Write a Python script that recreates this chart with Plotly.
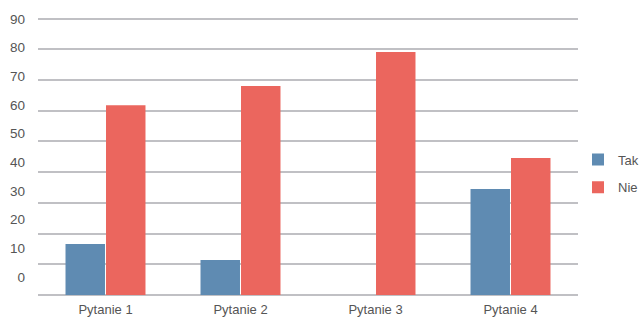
import plotly.graph_objects as go

categories = ["Pytanie 1", "Pytanie 2", "Pytanie 3", "Pytanie 4"]
tak_values = [16.6, 11.4, 0, 34.5]
nie_values = [61.8, 68.0, 79.1, 44.6]
series_names = ["Tak", "Nie"]
ytick_vals = [0, 10, 20, 30, 40, 50, 60, 70, 80, 90]
ytick_text = ["0", "10", "20", "30", "40", "50", "60", "70", "80", "90"]

W, H = 642, 320
TOP, BOTTOM = 10, 295          # plot area pixel rows
GRID_TOP = 18.5                # pixel of gridline 90
LBL0, LBL90 = 277, 19          # pixel rows of the "0" and "90" labels
FONT = "Helvetica Neue, Helvetica, Liberation Sans, Arial, sans-serif"
TXT = "#555555"

px_per_unit = (BOTTOM - GRID_TOP) / 90.0
y1_max = (BOTTOM - TOP) / px_per_unit
lbl_px = (LBL0 - LBL90) / 90.0
y2_min = (LBL0 - BOTTOM) / lbl_px
y2_max = (LBL0 - TOP) / lbl_px

fig = go.Figure()
fig.add_trace(go.Bar(x=categories, y=tak_values, name=series_names[0],
                     marker=dict(color="#5f8bb2", line=dict(width=0)),
                     legendgroup="a", hoverinfo="skip"))
fig.add_trace(go.Bar(x=categories, y=nie_values, name=series_names[1],
                     marker=dict(color="#eb665e", line=dict(width=0)),
                     legendgroup="b", hoverinfo="skip"))
# invisible trace carrying the (offset) y tick labels
fig.add_trace(go.Scatter(x=[categories[0]], y=[0], yaxis="y2", mode="markers",
                         marker=dict(opacity=0), showlegend=False, hoverinfo="skip"))

fig.update_layout(
    width=W, height=H,
    margin=dict(l=38, r=W - 578, t=TOP, b=H - BOTTOM, pad=0, autoexpand=False),
    paper_bgcolor="white", plot_bgcolor="white",
    font=dict(family=FONT, size=13, color=TXT),
    barmode="group", bargap=0.4, bargroupgap=0.025,
    showlegend=True,
    legend=dict(xref="container", x=578 / W, xanchor="left",
                yref="container", y=1 - 173.5 / H, yanchor="middle",
                font=dict(family=FONT, size=13, color=TXT),
                traceorder="grouped", tracegroupgap=8,
                bgcolor="rgba(0,0,0,0)", itemwidth=30),
    xaxis=dict(showgrid=False, zeroline=False, showline=False, ticks="",
               tickfont=dict(family=FONT, size=13, color=TXT),
               ticklabelstandoff=5, automargin=False),
    yaxis=dict(range=[0, y1_max], tickvals=ytick_vals, showticklabels=False,
               showgrid=True, gridcolor="#c0c0c4", gridwidth=2,
               zeroline=True, zerolinecolor="#c0c0c4", zerolinewidth=2,
               showline=False, ticks="", automargin=False),
    yaxis2=dict(range=[y2_min, y2_max], overlaying="y", side="left",
                tickvals=ytick_vals, ticktext=ytick_text, showgrid=False,
                zeroline=False, showline=False, ticks="", automargin=False,
                tickfont=dict(family=FONT, size=13.5, color=TXT),
                ticklabelstandoff=12),
)

fig.write_html("out.html")
